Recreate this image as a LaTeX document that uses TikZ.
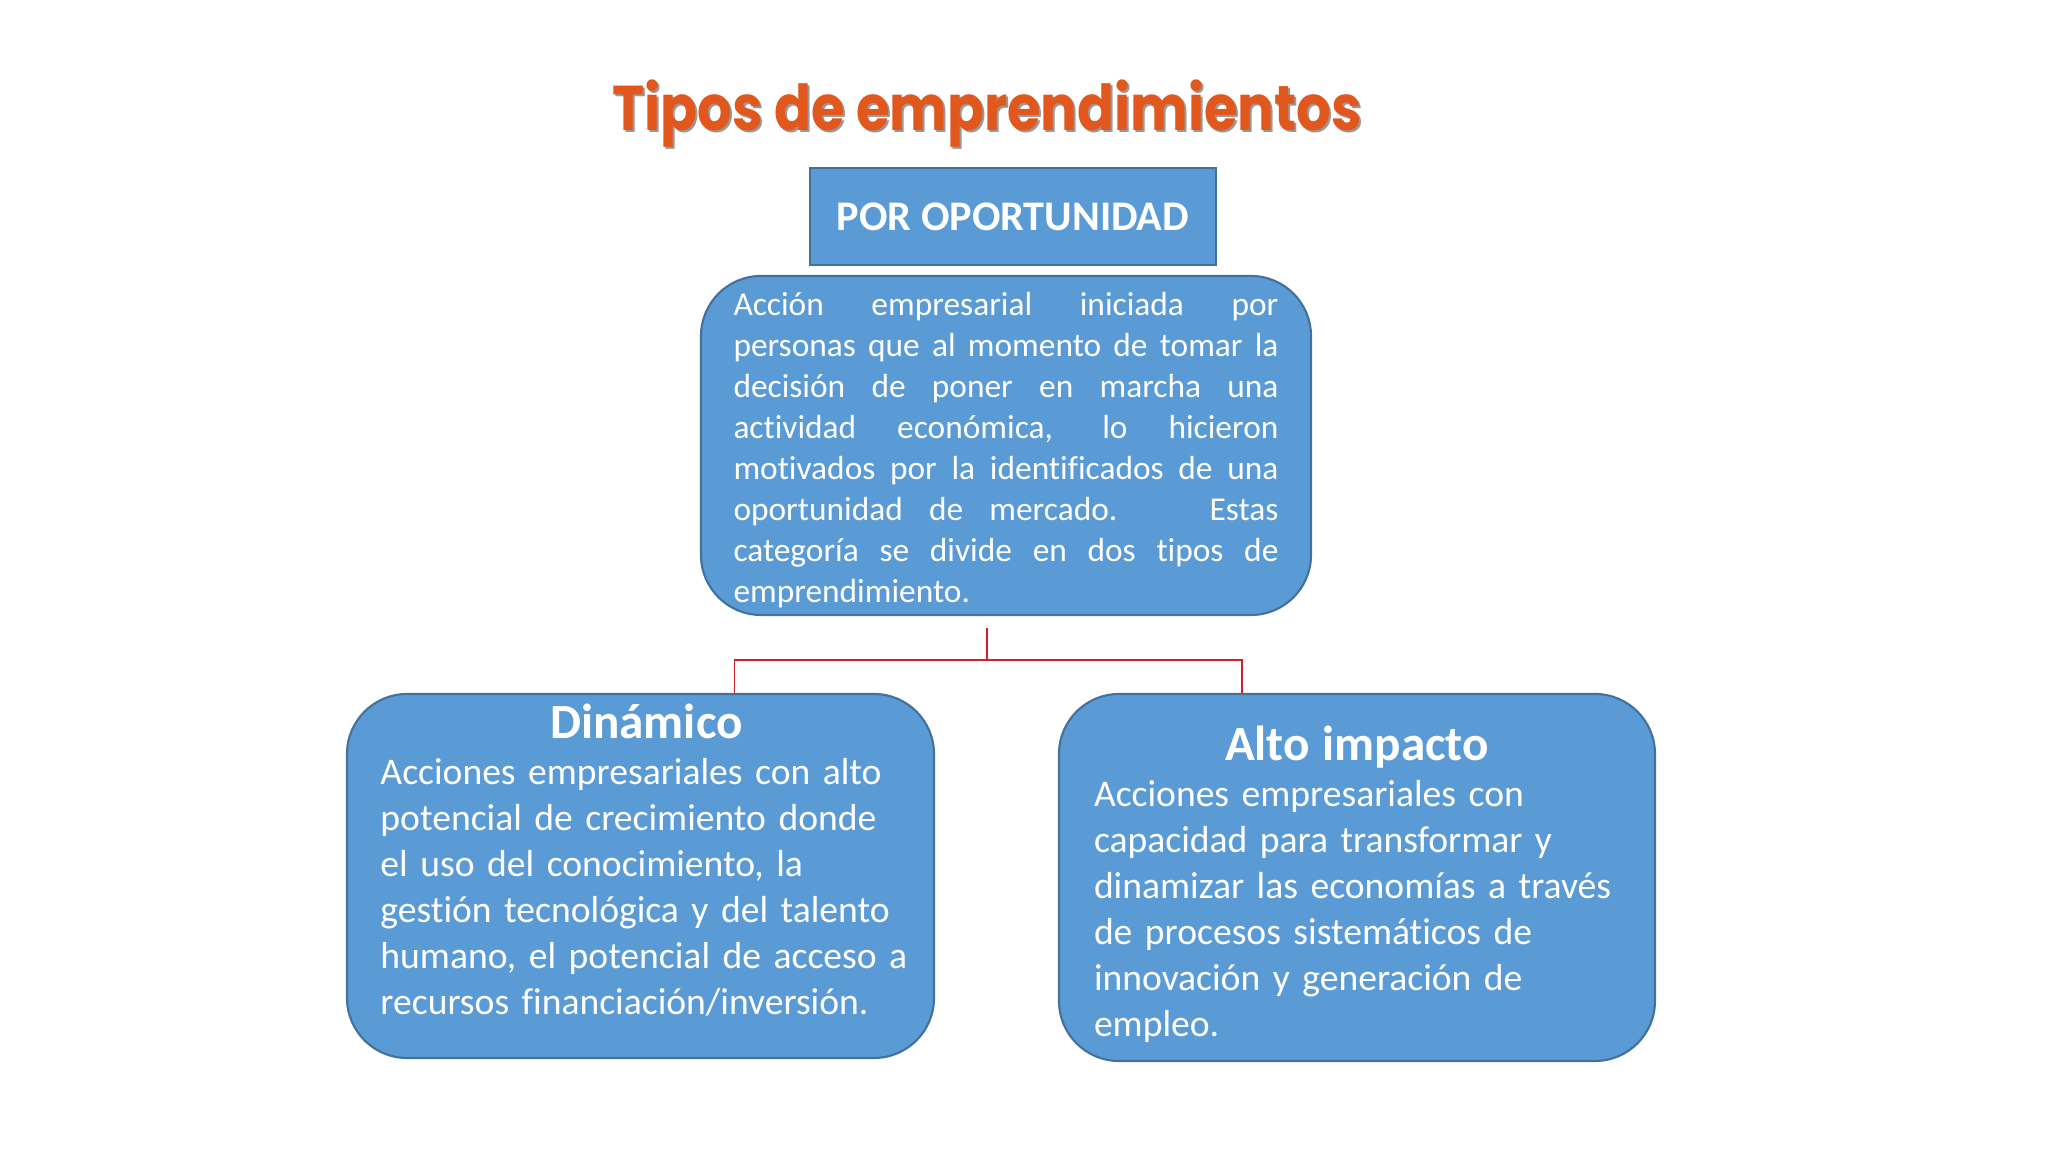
\documentclass[tikz,border=0pt]{standalone}
\usepackage{fontspec}
\setmainfont{Carlito}[Ligatures={NoCommon}]
\newfontfamily\titlefont{Poppins}[FakeStretch=0.86]
\usetikzlibrary{positioning}

\definecolor{boxblue}{HTML}{5B9BD5}
\definecolor{boxline}{HTML}{41719C}
\definecolor{titleorange}{HTML}{E2571C}
\definecolor{linkred}{HTML}{D0202E}

\newcommand{\cardtitle}[1]{\makebox[\hsize][c]{\fontsize{14}{16}\selectfont\bfseries #1}}

\tikzset{
  head/.style={draw=boxline, fill=boxblue, line width=0.6pt, minimum width=4.06cm, minimum height=0.97cm,
    text=white, font=\bfseries\fontsize{12}{14}\selectfont},
  card/.style={draw=boxline, fill=boxblue, line width=0.6pt, rounded corners=0.6cm, inner sep=0pt},
  cardtext/.style={text=white, align=left, inner sep=0pt, font=\fontsize{10.7}{13.1}\selectfont},
  link/.style={draw=linkred, line width=0.5pt}
}

\begin{document}
\begin{tikzpicture}
\useasboundingbox[fill=white] (0,0) rectangle (20.48,11.52);

% title
\node[font=\titlefont\bfseries\fontsize{18}{22}\selectfont, text=black!40, anchor=base] (titleshadow) at (9.89,10.19) {Tipos de emprendimientos};
\node[font=\titlefont\bfseries\fontsize{18}{22}\selectfont, text=titleorange, anchor=base] (title) at (9.87,10.21) {Tipos de emprendimientos};

% top boxes
\node[head] (por) at (10.13,9.355) {POR OPORTUNIDAD};
\node[card, minimum width=6.10cm, minimum height=3.39cm] (accion) at (10.06,7.065) {};
\node[cardtext, text width=5.45cm, align=justify, font=\fontsize{9.5}{11.67}\selectfont] (acciontext)
  at ([yshift=-0.5mm]accion.center)
  {Acción empresarial iniciada por\linebreak personas que al momento de tomar la\linebreak
   decisión de poner en marcha una\linebreak actividad económica, lo hicieron\linebreak
   motivados por la identificados de una\linebreak oportunidad de mercado.~ Estas\linebreak
   categoría se divide en dos tipos de\linebreak emprendimiento.};

% the two kinds
\node[card, minimum width=5.87cm, minimum height=3.64cm] (dinamico) at (6.405,2.76) {};
\node[cardtext, text width=5.32cm] (dinamicotext) at ([xshift=0.6mm,yshift=1.6mm]dinamico.center)
  {\cardtitle{Dinámico}\\
   Acciones empresariales con alto\\ potencial de crecimiento donde\\ el uso del conocimiento, la\\
   gestión tecnológica y del talento\\ humano, el potencial de acceso a\\ recursos financiación/inversión.};

\node[card, minimum width=5.96cm, minimum height=3.67cm] (alto) at (13.57,2.745) {};
\node[cardtext, text width=5.26cm] (altotext) at ([yshift=-0.7mm]alto.center)
  {\cardtitle{Alto impacto}\\
   Acciones empresariales con\\ capacidad para transformar y\\ dinamizar las economías a través\\
   de procesos sistemáticos de\\ innovación y generación de\\ empleo.};

% connectors
\coordinate (split) at (9.87,5.24);
\coordinate (bus) at (9.87,4.92);
\draw[link] (split) -- (bus) -| ([xshift=9.4mm]dinamico.north);
\draw[link] (bus) -| ([xshift=-11.5mm]alto.north);
\end{tikzpicture}
\end{document}
